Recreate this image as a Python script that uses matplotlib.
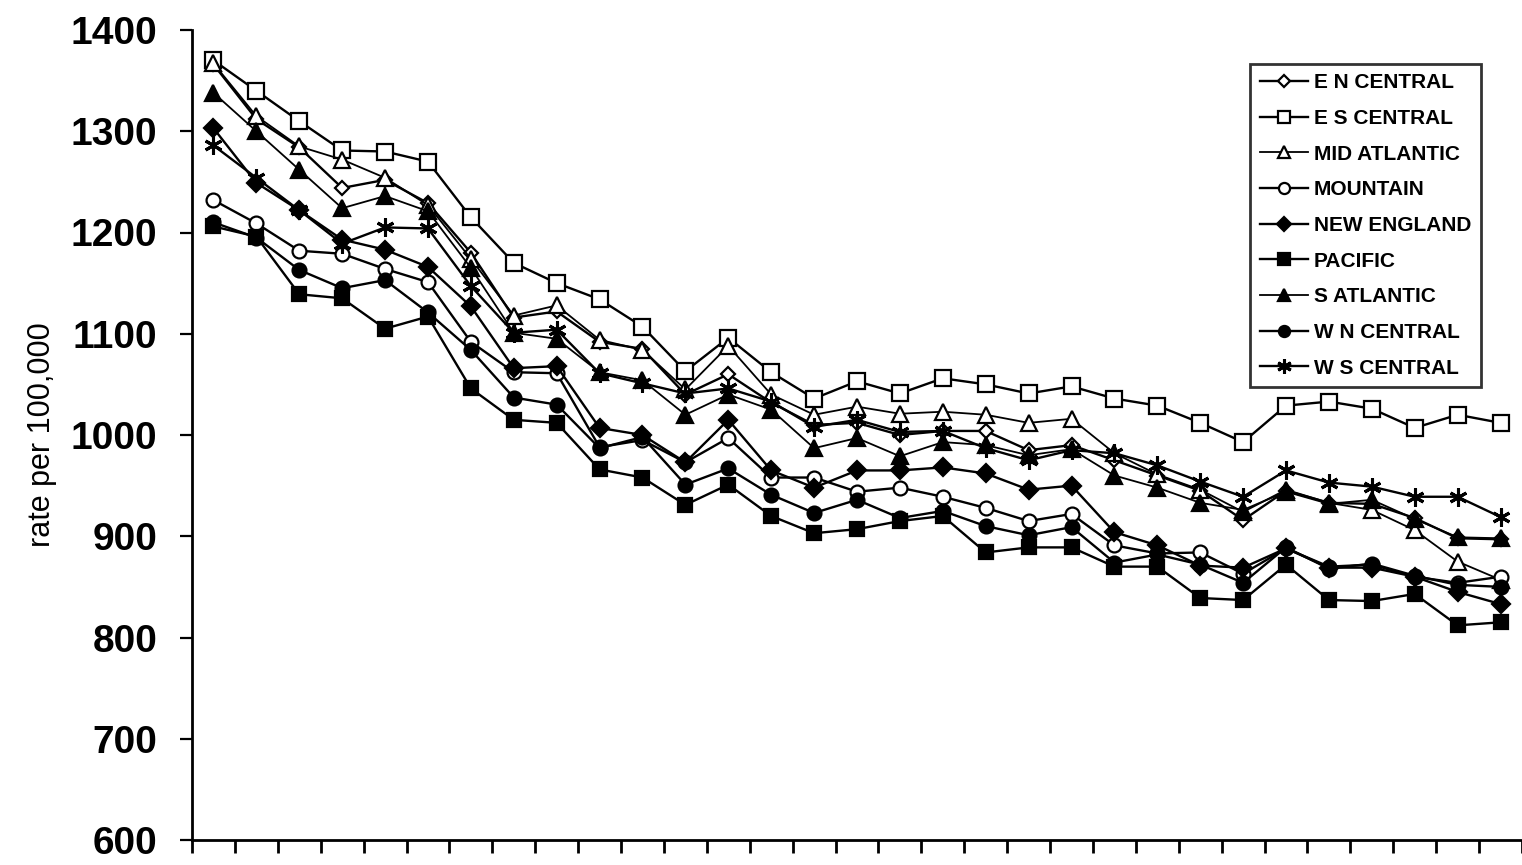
import matplotlib
matplotlib.use('Agg')
import matplotlib.pyplot as plt
import numpy as np

plt.rcParams['font.family'] = ['Liberation Sans', 'DejaVu Sans']

# 31 yearly points, x axis has no labels in the original
n_points = 31

en_central = [1366, 1312, 1284, 1244, 1252, 1229, 1180, 1116, 1122, 1092, 1085, 1040, 1060, 1032,
              1010, 1012, 1000, 1004, 1004, 985, 990, 975, 960, 945, 916, 945, 933, 932, 918, 898, 897]
es_central = [1370, 1340, 1310, 1281, 1280, 1270, 1215, 1170, 1150, 1134, 1107, 1063, 1096, 1062,
              1036, 1053, 1041, 1056, 1050, 1041, 1048, 1036, 1029, 1012, 993, 1029, 1033, 1026, 1007, 1020, 1012]
mid_atlantic = [1367, 1315, 1285, 1272, 1254, 1227, 1174, 1118, 1128, 1094, 1084, 1045, 1088, 1040,
                1020, 1028, 1021, 1023, 1020, 1012, 1016, 982, 961, 946, 924, 946, 933, 926, 906, 875, 857]
mountain = [1232, 1209, 1182, 1179, 1164, 1151, 1092, 1062, 1061, 988, 995, 973, 997, 958,
            958, 944, 948, 939, 928, 915, 922, 891, 883, 884, 863, 888, 870, 872, 860, 854, 860]
new_england = [1303, 1249, 1222, 1193, 1183, 1166, 1127, 1066, 1068, 1007, 1000, 973, 1015, 965,
               948, 965, 965, 968, 962, 946, 950, 904, 891, 871, 869, 888, 869, 869, 860, 845, 833]
pacific = [1206, 1196, 1139, 1135, 1105, 1117, 1046, 1015, 1012, 966, 958, 931, 951, 920,
           903, 907, 915, 920, 884, 889, 889, 870, 870, 839, 837, 872, 837, 836, 843, 812, 815]
s_atlantic = [1338, 1300, 1262, 1224, 1236, 1221, 1165, 1101, 1095, 1062, 1054, 1020, 1040, 1025,
              987, 997, 979, 993, 990, 980, 986, 960, 948, 933, 926, 944, 932, 936, 917, 899, 898]
wn_central = [1210, 1195, 1163, 1145, 1153, 1121, 1084, 1037, 1030, 987, 998, 951, 967, 941,
              923, 936, 918, 925, 910, 901, 909, 874, 882, 872, 854, 889, 868, 873, 861, 852, 850]
ws_central = [1286, 1254, 1222, 1189, 1205, 1204, 1147, 1101, 1104, 1061, 1051, 1041, 1046, 1033,
              1008, 1015, 1003, 1004, 987, 975, 985, 982, 970, 954, 939, 965, 953, 949, 939, 939, 919]

labels = ['E N CENTRAL', 'E S CENTRAL', 'MID ATLANTIC', 'MOUNTAIN', 'NEW ENGLAND',
          'PACIFIC', 'S ATLANTIC', 'W N CENTRAL', 'W S CENTRAL']
series = [en_central, es_central, mid_atlantic, mountain, new_england,
          pacific, s_atlantic, wn_central, ws_central]

# marker, size, filled, line width
styles = [
    ('D', 7.5, False, 1.7),
    ('s', 11, False, 1.7),
    ('^', 11, False, 1.3),
    ('o', 10, False, 1.7),
    ('D', 9, True, 1.7),
    ('s', 10, True, 1.7),
    ('^', 11, True, 1.3),
    ('o', 10, True, 1.7),
    ((6, 2, 0), 13, True, 1.7),
]

fig = plt.figure(figsize=(15.22, 8.65), dpi=100)
ax = fig.add_axes([192 / 1522, 25 / 865, 1330 / 1522, 810 / 865])

x = np.arange(n_points)
for i, (vals, lab, (mk, ms, filled, lw)) in enumerate(zip(series, labels, styles)):
    ax.plot(x, vals, color='black', linewidth=lw, marker=mk, markersize=ms,
            markerfacecolor='black' if filled else 'white',
            markeredgecolor='black', markeredgewidth=1.6 if not isinstance(mk, tuple) else 2.2,
            label=lab, zorder=3 + i, clip_on=False)

ax.set_xlim(-0.5, n_points - 0.5)
ax.set_ylim(600, 1400)
ax.set_yticks(np.arange(600, 1401, 100))
ax.set_xticks(np.arange(-0.5, n_points, 1.0))
ax.set_xticklabels([])

ax.spines['top'].set_visible(False)
ax.spines['right'].set_visible(False)
ax.spines['left'].set_linewidth(2)
ax.spines['bottom'].set_linewidth(2)
ax.tick_params(axis='y', direction='out', length=9, width=1.6, pad=16, labelsize=28)
ax.tick_params(axis='x', direction='out', length=9, width=2, pad=2)
for t in ax.get_yticklabels():
    t.set_fontweight('bold')

ax.set_ylabel('rate per 100,000', fontsize=22, labelpad=10)

leg = ax.legend(loc='upper right', bbox_to_anchor=(0.969, 0.958), borderaxespad=0,
                fancybox=False, frameon=True, edgecolor='black',
                prop={'weight': 'bold', 'size': 15}, markerscale=0.8,
                handlelength=2.3, handletextpad=0.3, labelspacing=0.8,
                borderpad=0.45)
leg.get_frame().set_linewidth(2)

fig.savefig('out.png', dpi=100)
